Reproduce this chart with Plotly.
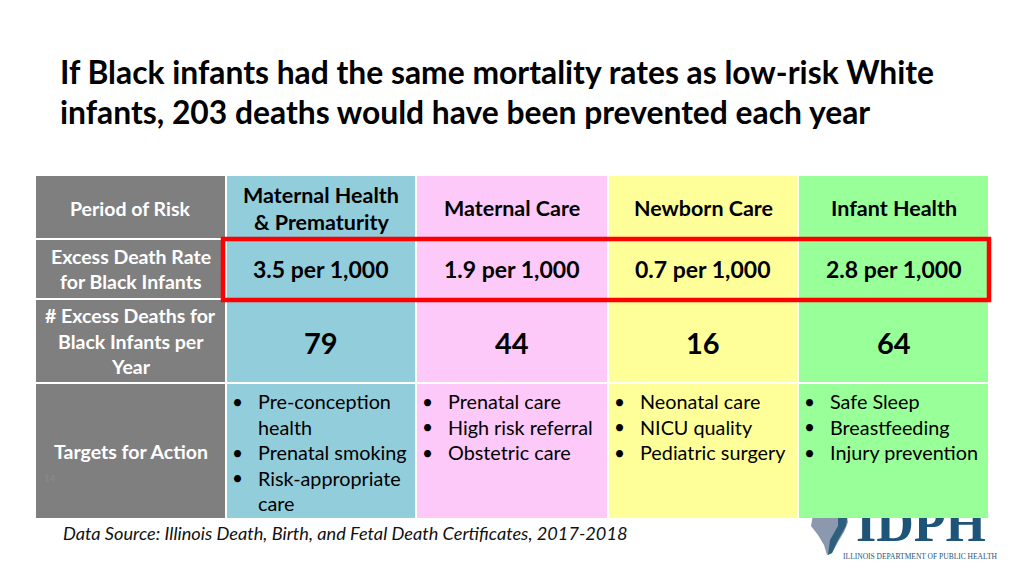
import plotly.graph_objects as go

# ---------------- data ----------------
title_lines = ["If Black infants had the same mortality rates as low-risk White",
               "infants, 203 deaths would have been prevented each year"]
row_labels = [["Period of Risk"],
              ["Excess Death Rate", "for Black Infants"],
              ["# Excess Deaths for", "Black Infants per", "Year"],
              ["Targets for Action"]]
periods = [["Maternal Health", "& Prematurity"], ["Maternal Care"], ["Newborn Care"], ["Infant Health"]]
rates = [3.5, 1.9, 0.7, 2.8]
deaths = [79, 44, 16, 64]
targets = [[["Pre-conception", "health"], ["Prenatal smoking"], ["Risk-appropriate", "care"]],
           [["Prenatal care"], ["High risk referral"], ["Obstetric care"]],
           [["Neonatal care"], ["NICU quality"], ["Pediatric surgery"]],
           [["Safe Sleep"], ["Breastfeeding"], ["Injury prevention"]]]
col_colors = ["#92CDDC", "#FCC9F9", "#FFFF99", "#99FF99"]
source = "Data Source: Illinois Death, Birth, and Fetal Death Certificates, 2017-2018"

# ---------------- layout geometry ----------------
col_edges = [36, 225, 415, 607, 797, 988]
row_edges = [176, 238, 298, 382, 518]
GAP = 2
FONT = "Lato, Carlito, Calibri, sans-serif"
OFF = 8  # page body margin compensation

fig = go.Figure()
shapes = []
ann = []

def add_text(x, y, t, size, color="black", bold=False, xanchor="center", italic=False):
    s = t
    if bold:
        s = "<b>" + s + "</b>"
    if italic:
        s = "<i>" + s + "</i>"
    ann.append(dict(x=x, y=y, text=s, showarrow=False, xanchor=xanchor, yanchor="middle",
                    font=dict(family=FONT, size=size, color=color)))

# logo (drawn as trace so table shapes overlay it)
fig.add_trace(go.Scatter(x=[921], y=[528], mode="text", text=["<b>IDPH</b>"],
                         textfont=dict(family="Liberation Serif, serif", size=52, color="#1E5478"),
                         hoverinfo="skip", showlegend=False))
fig.add_trace(go.Scatter(x=[920], y=[557], mode="text", text=["ILLINOIS DEPARTMENT OF PUBLIC HEALTH"],
                         textfont=dict(family="Liberation Serif, serif", size=7.5, color="#1E5478"),
                         hoverinfo="skip", showlegend=False))
# rough Illinois shape
shapes.append(dict(type="path", layer="below",
                   path="M 813 515 L 846 513 L 848 522 L 844 532 L 838 542 L 832 553 L 827 555 L 824 545 L 818 535 L 811 526 Z",
                   fillcolor="#8C98AE", line=dict(width=0)))
shapes.append(dict(type="path", layer="below",
                   path="M 838 513 L 848 513 L 846 526 L 838 540 L 832 553 L 828 555 L 830 540 L 838 526 Z",
                   fillcolor="#2E5F7E", line=dict(width=0)))

# header column (gray)
for r in range(4):
    y0, y1 = row_edges[r] + (0 if r == 0 else GAP), row_edges[r + 1]
    shapes.append(dict(type="rect", x0=col_edges[0], x1=col_edges[1], y0=y0, y1=y1,
                       fillcolor="#7F7F7F", line=dict(width=0), layer="above"))
    lines = row_labels[r]
    yc = (row_edges[r] + row_edges[r + 1]) / 2 + 1
    sp = 25.5
    for i, ln in enumerate(lines):
        add_text((col_edges[0] + col_edges[1]) / 2, yc + (i - (len(lines) - 1) / 2) * sp, ln, 19.5,
                 color="white", bold=True)

# data columns
for c in range(4):
    x0 = col_edges[c + 1] + GAP
    x1 = col_edges[c + 2]
    for r in range(4):
        y0 = row_edges[r] + (0 if r == 0 else GAP)
        y1 = row_edges[r + 1]
        shapes.append(dict(type="rect", x0=x0, x1=x1, y0=y0, y1=y1,
                           fillcolor=col_colors[c], line=dict(width=0), layer="above"))
    xc = (x0 + x1) / 2
    # header
    lines = periods[c]
    yc = (row_edges[0] + row_edges[1]) / 2 + 1
    for i, ln in enumerate(lines):
        add_text(xc, yc + (i - (len(lines) - 1) / 2) * 27, ln, 21.5, bold=True)
    # rate
    add_text(xc, (row_edges[1] + row_edges[2]) / 2 + 1, f"{rates[c]} per 1,000", 23, bold=True)
    # deaths
    add_text(xc, (row_edges[2] + row_edges[3]) / 2 + 2, str(deaths[c]), 29, bold=True)
    # targets
    y = 401
    for item in targets[c]:
        add_text(x0 + 10, y, "•", 19, xanchor="center")
        for ln in item:
            add_text(x0 + 29, y, ln, 19.8, xanchor="left")
            y += 25.5

# red highlight box
shapes.append(dict(type="rect", x0=223, x1=989, y0=239, y1=300,
                   line=dict(color="#FF0000", width=4.5), fillcolor="rgba(0,0,0,0)", layer="above"))

# title
for i, ln in enumerate(title_lines):
    add_text(58, 72 + i * 39.5, ln, 31.8, bold=True, xanchor="left")

# source
add_text(61, 533, source, 18.2, italic=True, xanchor="left", color="#111111")
# page number
add_text(50, 478, "14", 10, color="#8A8A8A", xanchor="center")

fig.update_layout(
    width=1024 - OFF, height=576 - OFF, margin=dict(l=0, r=0, t=0, b=0),
    paper_bgcolor="white", plot_bgcolor="white",
    xaxis=dict(range=[OFF, 1024], visible=False, fixedrange=True),
    yaxis=dict(range=[576, OFF], visible=False, fixedrange=True),
    shapes=shapes, annotations=ann, showlegend=False,
)
fig.write_html("out.html")
